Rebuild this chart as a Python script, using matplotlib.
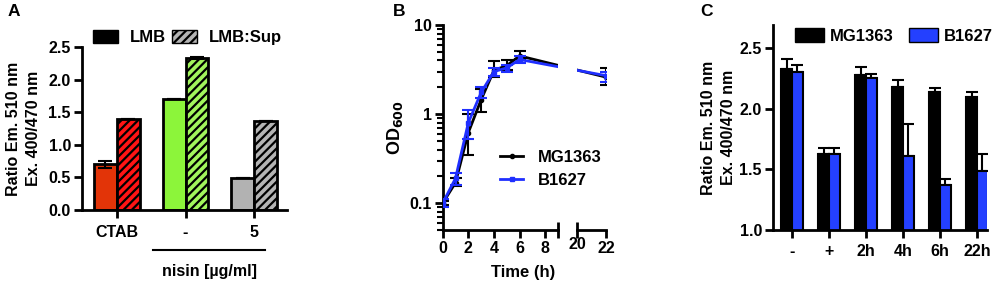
import numpy as np
import matplotlib
matplotlib.use("Agg")
import matplotlib.pyplot as plt
from matplotlib.patches import Patch
from matplotlib.lines import Line2D
from matplotlib.ticker import LogLocator, NullFormatter

plt.rcParams['font.family'] = ['Liberation Sans', 'DejaVu Sans']
plt.rcParams['font.weight'] = 'bold'
plt.rcParams['axes.labelweight'] = 'bold'
plt.rcParams['hatch.linewidth'] = 1.6
plt.rcParams['axes.linewidth'] = 2.0

# ---- panel A data
a_groups = ['CTAB', '-', '5']
a_lmb = [0.70, 1.70, 0.49]
a_lmb_err = [0.05, 0.0, 0.0]
a_sup = [1.40, 2.33, 1.37]
a_sup_err = [0.0, 0.02, 0.0]
a_lmb_col = ['#E23408', '#8CF53A', '#B2B2B2']
a_sup_col = ['#FF1414', '#A2F55C', '#B4B4B4']

# ---- panel B data
b_time = np.array([0, 1, 2, 3, 4, 5, 6, 22])
b_mg = np.array([0.10, 0.17, 0.62, 1.45, 3.1, 3.5, 4.5, 2.6])
b_mg_lo = np.array([0.095, 0.155, 0.35, 1.05, 2.6, 3.1, 4.1, 2.1])
b_mg_hi = np.array([0.105, 0.19, 1.0, 1.9, 3.9, 4.0, 5.1, 3.3])
b_bl = np.array([0.10, 0.19, 0.80, 1.75, 3.0, 3.3, 4.1, 2.7])
b_bl_lo = np.array([0.09, 0.16, 0.52, 1.5, 2.7, 3.0, 3.7, 2.3])
b_bl_hi = np.array([0.11, 0.22, 1.1, 2.0, 3.3, 3.6, 4.5, 3.0])

# ---- panel C data
c_groups = ['-', '+', '2h', '4h', '6h', '22h']
c_mg = [2.33, 1.63, 2.28, 2.18, 2.14, 2.10]
c_mg_err = [0.08, 0.05, 0.06, 0.06, 0.03, 0.04]
c_bl = [2.30, 1.63, 2.25, 1.61, 1.37, 1.49]
c_bl_err = [0.06, 0.05, 0.04, 0.26, 0.05, 0.14]

W, H = 1000, 283
fig = plt.figure(figsize=(W / 100, H / 100), dpi=100)


def px_axes(x0, x1, y0, y1):
    # y0 top, y1 bottom (pixels)
    return fig.add_axes([x0 / W, 1 - y1 / H, (x1 - x0) / W, (y1 - y0) / H])


def style(ax):
    for s in ['top', 'right']:
        ax.spines[s].set_visible(False)
    ax.tick_params(width=2, length=6, labelsize=11, pad=2)


TK = dict(fontsize=11.5, fontweight='bold')

# =========== A
axA = px_axes(82, 287, 47, 210)
style(axA)
xa = np.arange(len(a_groups))
w = 0.335
axA.bar(xa - w / 2, a_lmb, w, color=a_lmb_col, edgecolor='black', linewidth=2, zorder=2)
axA.bar(xa + w / 2, a_sup, w, color=a_sup_col, edgecolor='black', linewidth=2, hatch='////', zorder=2)
axA.errorbar(xa - w / 2, a_lmb, yerr=a_lmb_err, fmt='none', ecolor='black', elinewidth=1.5, capsize=5, capthick=1.5, zorder=3)
axA.errorbar(xa + w / 2, a_sup, yerr=a_sup_err, fmt='none', ecolor='black', elinewidth=1.5, capsize=5, capthick=1.5, zorder=3)
axA.set_xlim(-0.51, 2.48)
axA.set_ylim(0, 2.5)
axA.set_yticks([0, 0.5, 1.0, 1.5, 2.0, 2.5])
axA.set_yticklabels(['0.0', '0.5', '1.0', '1.5', '2.0', '2.5'], **TK)
axA.set_xticks(xa)
axA.set_xticklabels(a_groups, **TK)
axA.tick_params(axis='x', pad=5)
axA.set_ylabel('Ratio Em. 510 nm\nEx. 400/470 nm', fontsize=11.5, linespacing=1.4)
axA.yaxis.set_label_coords(-0.2, 0.5)
axA.plot([0.346, 0.893], [-0.245, -0.245], color='black', lw=1.5, transform=axA.transAxes, clip_on=False)
axA.text(0.62, -0.38, 'nisin [µg/ml]', transform=axA.transAxes, ha='center', va='center', **TK)
legA = [Patch(facecolor='black', edgecolor='black'),
        Patch(facecolor='#B4B4B4', edgecolor='black', hatch='////')]
axA.legend(legA, ['LMB', 'LMB:Sup'], ncol=2, frameon=False, loc='upper left',
           bbox_to_anchor=(93 / W, 1 - 30 / H), bbox_transform=fig.transFigure,
           borderpad=0, borderaxespad=0, handlelength=1.5, handleheight=0.85,
           handletextpad=0.7, columnspacing=0.4, prop=dict(size=12, weight='bold'))
fig.text(8 / W, 1 - 12 / H, 'A', fontsize=12.5, fontweight='bold', va='center')

# =========== B (broken x axis)
GAP = 1.48
K = 1.13


def brk(x):
    x = np.asarray(x, dtype=float)
    return np.where(x <= 9, x, 9 + GAP + (x - 20) * K)


axB1 = px_axes(442.7, 558, 25, 230)
axB2 = px_axes(577, 606, 25, 230)
axB2.patch.set_visible(False)
for ax in (axB1, axB2):
    style(ax)
    ax.set_yscale('log')
    ax.set_ylim(0.05, 10)
    ub = brk(b_time)
    for y, lo, hi, col, mk in [(b_mg, b_mg_lo, b_mg_hi, 'black', 'o'),
                               (b_bl, b_bl_lo, b_bl_hi, '#1F2FFF', 's')]:
        ax.plot(ub, y, color=col, lw=2, marker=mk, ms=3, zorder=3)
        ax.errorbar(ub, y, yerr=[y - lo, hi - y], fmt='none', ecolor=col,
                    elinewidth=1.5, capsize=4, capthick=1.5, zorder=3)
axB1.set_xlim(0, 9)
axB1.set_xticks([0, 2, 4, 6, 8])
axB1.set_xticklabels(['0', '2', '4', '6', '8'], **TK)
axB1.set_xticks([9], minor=True)
axB1.tick_params(axis='x', which='minor', direction='inout', length=12, width=2)
axB1.set_yticks([0.1, 1, 10])
axB1.set_yticklabels(['0.1', '1', '10'], **TK)
axB1.yaxis.set_minor_locator(LogLocator(base=10, subs=np.arange(2, 10)))
axB1.yaxis.set_minor_formatter(NullFormatter())
axB1.tick_params(axis='y', which='minor', length=4, width=1.5)
axB1.set_ylabel('OD$_{\\mathbf{600}}$', fontsize=13)
axB1.yaxis.set_label_coords(-0.33, 0.5)
axB1.set_xlabel('Time (h)', fontsize=12)
axB1.xaxis.set_label_coords((523 - 442.7) / (558 - 442.7), -0.17)

axB2.set_xlim(brk(20), brk(22))
axB2.spines['left'].set_visible(False)
axB2.set_xticks(brk([22]))
axB2.set_xticklabels(['22'], **TK)
axB2.set_xticks(brk([20]), minor=True)
axB2.set_xticklabels(['20'], minor=True, **TK)
axB2.tick_params(axis='x', which='minor', direction='inout', length=12, width=2, pad=-1)
axB2.tick_params(axis='y', which='both', left=False, labelleft=False)
axB2.yaxis.set_minor_formatter(NullFormatter())

legB = [Line2D([0], [0], color='black', lw=2, marker='o', ms=3),
        Line2D([0], [0], color='#1F2FFF', lw=2, marker='s', ms=3)]
fig.legend(legB, ['MG1363', 'B1627'], frameon=False, loc='upper left',
           bbox_to_anchor=(500 / W, 1 - 150 / H), bbox_transform=fig.transFigure,
           borderpad=0, borderaxespad=0, handlelength=1.4, handletextpad=0.9,
           labelspacing=0.5, prop=dict(size=12, weight='bold'))
fig.text(393 / W, 1 - 12 / H, 'B', fontsize=12.5, fontweight='bold', va='center')

# =========== C
axC = px_axes(773, 987, 25, 230)
style(axC)
xc = np.arange(len(c_groups))
wc = 0.29
axC.bar(xc - wc / 2, c_mg, wc, color='black', edgecolor='black', linewidth=1.5, zorder=2)
axC.bar(xc + wc / 2, c_bl, wc, color='#2440FF', edgecolor='black', linewidth=1.5, zorder=2)
axC.errorbar(xc - wc / 2, c_mg, yerr=[np.zeros(len(c_mg)), c_mg_err], fmt='none', ecolor='black',
             elinewidth=1.5, capsize=4, capthick=1.5, zorder=1)
axC.errorbar(xc + wc / 2, c_bl, yerr=[np.zeros(len(c_bl)), c_bl_err], fmt='none', ecolor='black',
             elinewidth=1.5, capsize=4, capthick=1.5, zorder=1)
axC.set_xlim(-0.51, 5.27)
axC.set_ylim(1.0, 2.69)
axC.set_yticks([1.0, 1.5, 2.0, 2.5])
axC.set_yticklabels(['1.0', '1.5', '2.0', '2.5'], **TK)
axC.set_xticks(xc)
axC.set_xticklabels(c_groups, **TK)
axC.tick_params(axis='x', pad=4)
axC.set_ylabel('Ratio Em. 510 nm\nEx. 400/470 nm', fontsize=11.5, linespacing=1.4)
axC.yaxis.set_label_coords(-0.175, 0.5)
legC = [Patch(facecolor='black', edgecolor='black'),
        Patch(facecolor='#2440FF', edgecolor='black')]
axC.legend(legC, ['MG1363', 'B1627'], ncol=2, frameon=False, loc='upper left',
           bbox_to_anchor=(795 / W, 1 - 28 / H), bbox_transform=fig.transFigure,
           borderpad=0, borderaxespad=0, handlelength=1.75, handleheight=0.9,
           handletextpad=0.35, columnspacing=0.9, prop=dict(size=12, weight='bold'))
fig.text(700 / W, 1 - 12 / H, 'C', fontsize=12.5, fontweight='bold', va='center')

fig.savefig('out.png', dpi=100)
